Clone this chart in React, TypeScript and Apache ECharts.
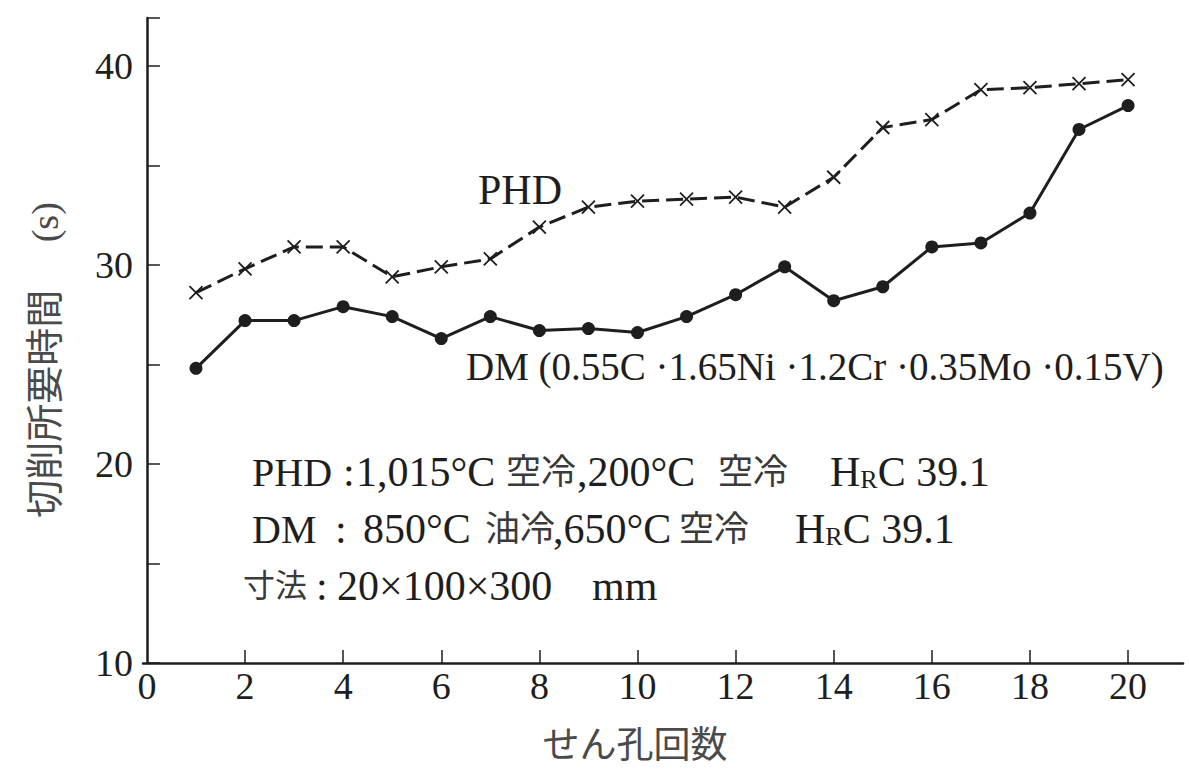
import React, { useEffect, useRef } from "react";
import * as echarts from "echarts";

// せん孔回数 (number of drilling runs)
const runs = [1, 2, 3, 4, 5, 6, 7, 8, 9, 10, 11, 12, 13, 14, 15, 16, 17, 18, 19, 20];
// 切削所要時間 (s)
const phdTimes = [28.6, 29.8, 30.9, 30.9, 29.4, 29.9, 30.3, 31.9, 32.9, 33.2, 33.3, 33.4, 32.9, 34.4, 36.9, 37.3, 38.8, 38.9, 39.1, 39.3];
const dmTimes = [24.8, 27.2, 27.2, 27.9, 27.4, 26.3, 27.4, 26.7, 26.8, 26.6, 27.4, 28.5, 29.9, 28.2, 28.9, 30.9, 31.1, 32.6, 36.8, 38.0];

const xTickValues = [2, 4, 6, 8, 10, 12, 14, 16, 18, 20];
const xLabelValues = [0, 2, 4, 6, 8, 10, 12, 14, 16, 18, 20];
const yLabelValues = [10, 20, 30, 40];

const SERIF = '"Liberation Serif", "DejaVu Serif", "Noto Sans CJK JP", serif';
const INK = "#1e1e1e";
const SOFT = "#4a4a4a";
const CJK_INK = "#3a3a3a";

export default function App() {
  const ref = useRef<HTMLDivElement>(null);

  useEffect(() => {
    if (!ref.current) return;
    const chart = echarts.init(ref.current, null, { renderer: "svg" });

    const txt = (text: string, x: number, y: number, size: number, extra: any = {}) => ({
      type: "text",
      x,
      y,
      silent: true,
      style: {
        text,
        fontSize: size,
        fontFamily: SERIF,
        fill: INK,
        align: "left",
        verticalAlign: "middle",
        ...extra,
      },
    });
    const cjk = (text: string, x: number, y: number, size = 35) =>
      txt(text, x, y, size, { fill: CJK_INK });

    const hrc = (x: number, y: number) =>
      txt("H{r|R}C 39.1", x, y, 42, {
        rich: {
          r: { fontSize: 26, fontFamily: SERIF, fill: INK, padding: [15, 0, 0, 0] },
        },
      });

    const L1 = 472;
    const L2 = 529;
    const L3 = 586;
    const F = 42;

    chart.setOption({
      animation: false,
      backgroundColor: "#ffffff",
      grid: { left: 143, right: 6, top: 18, bottom: 106, containLabel: false },
      xAxis: {
        type: "value",
        min: -0.08,
        max: 21.12,
        axisLine: { show: true, lineStyle: { color: INK, width: 2.5 } },
        axisTick: {
          show: true,
          inside: true,
          length: 13,
          customValues: xTickValues,
          lineStyle: { color: INK, width: 1.5 },
        },
        axisLabel: {
          customValues: xLabelValues,
          margin: 4,
          fontSize: 38,
          fontFamily: SERIF,
          color: INK,
        },
        splitLine: { show: false },
      },
      yAxis: {
        type: "value",
        min: 10,
        max: 42.4,
        interval: 5,
        axisLine: { show: true, lineStyle: { color: INK, width: 2.5 } },
        axisTick: {
          show: true,
          inside: true,
          length: 13,
          lineStyle: { color: INK, width: 1.5 },
        },
        axisLabel: {
          customValues: yLabelValues,
          margin: 10,
          fontSize: 38,
          fontFamily: SERIF,
          color: INK,
        },
        splitLine: { show: false },
      },
      series: [
        {
          name: "PHD",
          type: "line",
          data: runs.map((r, i) => [r, phdTimes[i]]),
          symbol: "path://M0,0L10,10M10,0L0,10",
          symbolSize: 13,
          lineStyle: { color: INK, width: 3, type: [17, 7] },
          itemStyle: { color: INK, borderColor: INK, borderWidth: 1.8 },
        },
        {
          name: "DM",
          type: "line",
          data: runs.map((r, i) => [r, dmTimes[i]]),
          symbol: "circle",
          symbolSize: 13,
          lineStyle: { color: INK, width: 3 },
          itemStyle: { color: INK, borderWidth: 0 },
        },
      ],
      graphic: [
        // axis titles
        {
          type: "text",
          x: 45,
          y: 360,
          rotation: Math.PI / 2,
          silent: true,
          style: {
            text: "切削所要時間\u3000 (s)",
            fontSize: 38,
            fontFamily: SERIF,
            fill: SOFT,
            align: "center",
            verticalAlign: "middle",
          },
        },
        txt("せん孔回数", 635, 745, 37, { align: "center", fill: SOFT }),
        // series labels
        txt("PHD", 478, 190, 42),
        txt("DM (0.55C ·1.65Ni ·1.2Cr ·0.35Mo ·0.15V)", 466, 366, 39),
        // condition notes
        txt("PHD", 252, L1, 40),
        txt(":", 343, L1, F),
        txt("1,015°C", 356, L1, F),
        cjk("空冷", 506, L1),
        txt(",200°C", 577, L1, F),
        cjk("空冷", 718, L1),
        hrc(830, L1),
        txt("DM", 252, L2, 40),
        txt(":", 335, L2, F),
        txt("850°C", 363, L2, F),
        cjk("油冷", 485, L2),
        txt(",650°C", 553, L2, F),
        cjk("空冷", 679, L2),
        hrc(795, L2),
        cjk("寸法", 243, L3, 32),
        txt(":", 316, L3, F),
        txt("20×100×300", 337, L3, F),
        txt("mm", 592, L3, F),
      ],
    });

    return () => chart.dispose();
  }, []);

  return (
    <div
      ref={ref}
      style={{ position: "fixed", left: 0, top: 0, width: "1189px", height: "769px", background: "#fff" }}
    />
  );
}
